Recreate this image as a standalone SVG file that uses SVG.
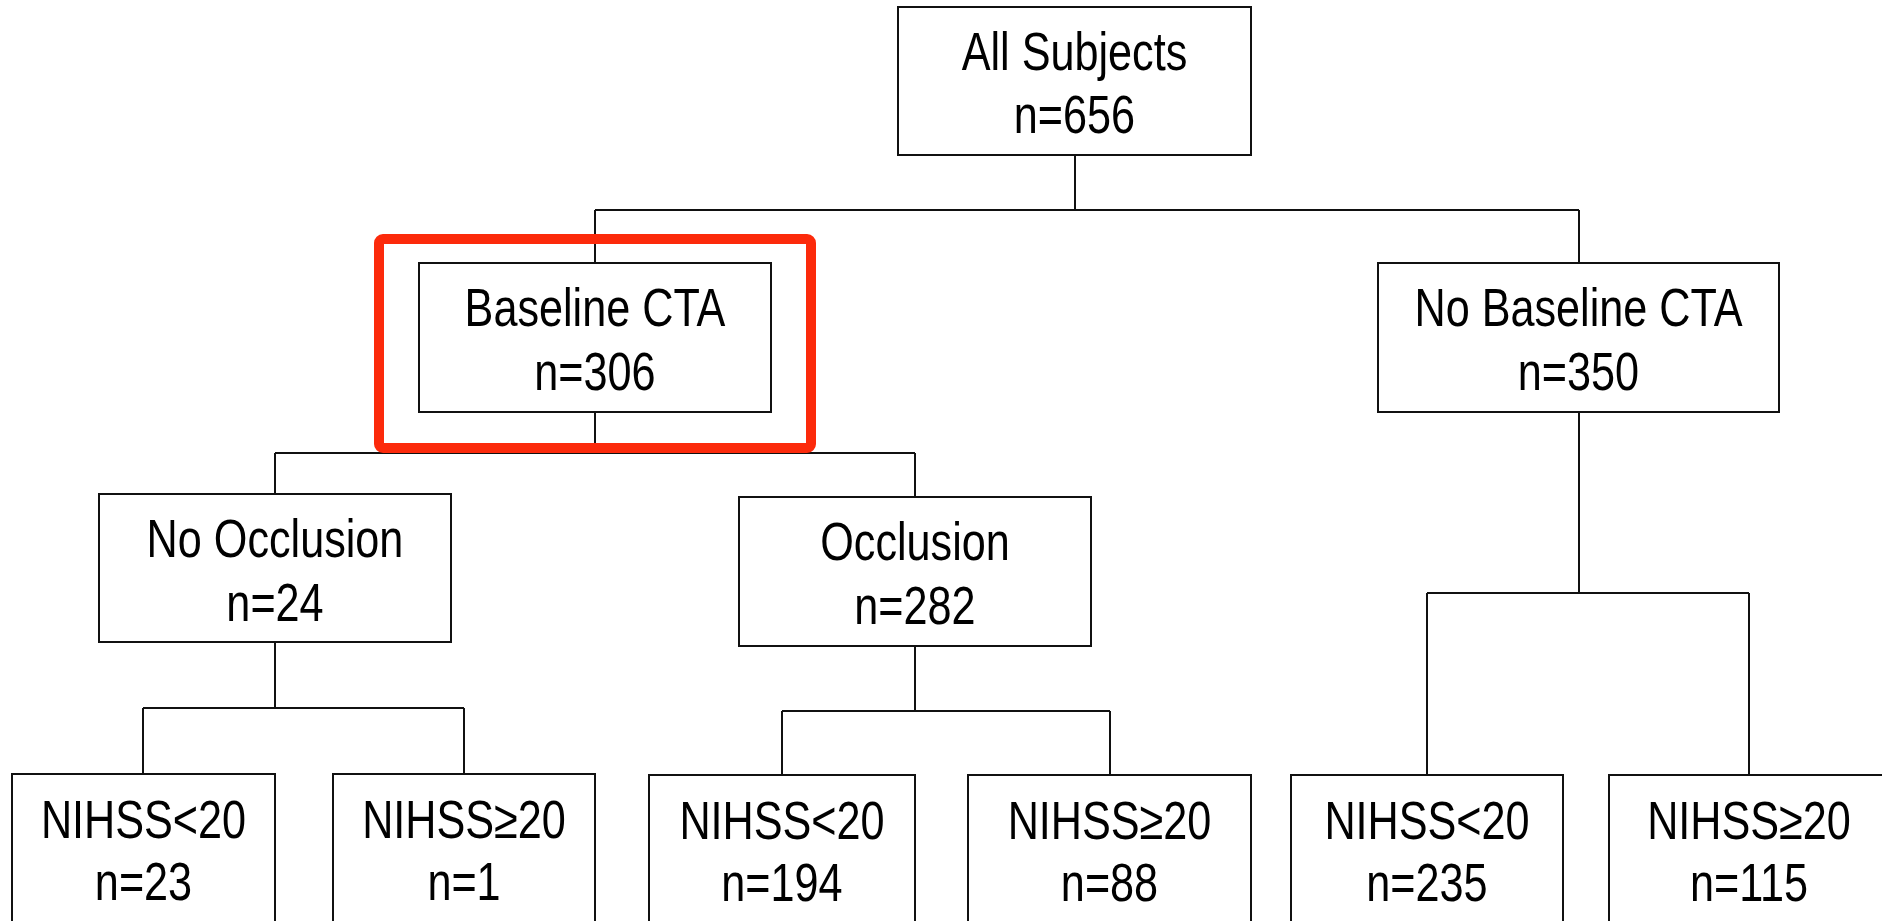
<svg xmlns="http://www.w3.org/2000/svg" width="1882" height="921" viewBox="0 0 1882 921">
<style>
.box{fill:#fff;stroke:#111;stroke-width:2}
.conn{fill:none;stroke:#111;stroke-width:2}
.lbl{font-family:"Liberation Sans",Arial,sans-serif;font-size:54px;fill:#000;text-anchor:middle}
.hl{fill:none;stroke:#fc2a0b;stroke-width:10}
</style>
<rect width="1882" height="921" fill="#fff"/>
<g id="connectors">
<path class="conn" d="M1075,155V210M595,210H1579M595,210V263M1579,210V263"/>
<path class="conn" d="M595,412V453M275,453H915M275,453V494M915,453V497"/>
<path class="conn" d="M1579,412V593M1427,593H1749M1427,593V775M1749,593V775"/>
<path class="conn" d="M275,642V708M143,708H464M143,708V774M464,708V774"/>
<path class="conn" d="M915,646V711M782,711H1110M782,711V775M1110,711V775"/>
</g>
<g id="all">
<rect class="box" x="898" y="7" width="353" height="148"/>
<text class="lbl" transform="translate(1074.5,70) scale(0.8,1)">All Subjects</text>
<text class="lbl" transform="translate(1074.5,133) scale(0.8,1)">n=656</text>
</g>
<g id="baseline">
<rect class="box" x="419" y="263" width="352" height="149"/>
<text class="lbl" transform="translate(595,326) scale(0.8,1)">Baseline CTA</text>
<text class="lbl" transform="translate(595,390) scale(0.8,1)">n=306</text>
</g>
<g id="highlight">
<rect class="hl" x="379" y="239" width="432" height="209" rx="4"/>
</g>
<g id="nobaseline">
<rect class="box" x="1378" y="263" width="401" height="149"/>
<text class="lbl" transform="translate(1578.5,326) scale(0.8,1)">No Baseline CTA</text>
<text class="lbl" transform="translate(1578.5,390) scale(0.8,1)">n=350</text>
</g>
<g id="noocc">
<rect class="box" x="99" y="494" width="352" height="148"/>
<text class="lbl" transform="translate(275,557) scale(0.8,1)">No Occlusion</text>
<text class="lbl" transform="translate(275,621) scale(0.8,1)">n=24</text>
</g>
<g id="occ">
<rect class="box" x="739" y="497" width="352" height="149"/>
<text class="lbl" transform="translate(915,560) scale(0.8,1)">Occlusion</text>
<text class="lbl" transform="translate(915,624) scale(0.8,1)">n=282</text>
</g>
<g id="n1">
<rect class="box" x="12" y="774" width="263" height="200"/>
<text class="lbl" transform="translate(143.5,838) scale(0.8,1)">NIHSS&lt;20</text>
<text class="lbl" transform="translate(143.5,900) scale(0.8,1)">n=23</text>
</g>
<g id="n2">
<rect class="box" x="333" y="774" width="262" height="200"/>
<text class="lbl" transform="translate(464,838) scale(0.8,1)">NIHSS≥20</text>
<text class="lbl" transform="translate(464,900) scale(0.8,1)">n=1</text>
</g>
<g id="n3">
<rect class="box" x="649" y="775" width="266" height="200"/>
<text class="lbl" transform="translate(782,839) scale(0.8,1)">NIHSS&lt;20</text>
<text class="lbl" transform="translate(782,901) scale(0.8,1)">n=194</text>
</g>
<g id="n4">
<rect class="box" x="968" y="775" width="283" height="200"/>
<text class="lbl" transform="translate(1109.5,839) scale(0.8,1)">NIHSS≥20</text>
<text class="lbl" transform="translate(1109.5,901) scale(0.8,1)">n=88</text>
</g>
<g id="n5">
<rect class="box" x="1291" y="775" width="272" height="200"/>
<text class="lbl" transform="translate(1427,839) scale(0.8,1)">NIHSS&lt;20</text>
<text class="lbl" transform="translate(1427,901) scale(0.8,1)">n=235</text>
</g>
<g id="n6">
<rect class="box" x="1609" y="775" width="280" height="200"/>
<text class="lbl" transform="translate(1749,839) scale(0.8,1)">NIHSS≥20</text>
<text class="lbl" transform="translate(1749,901) scale(0.8,1)">n=115</text>
</g>
</svg>
